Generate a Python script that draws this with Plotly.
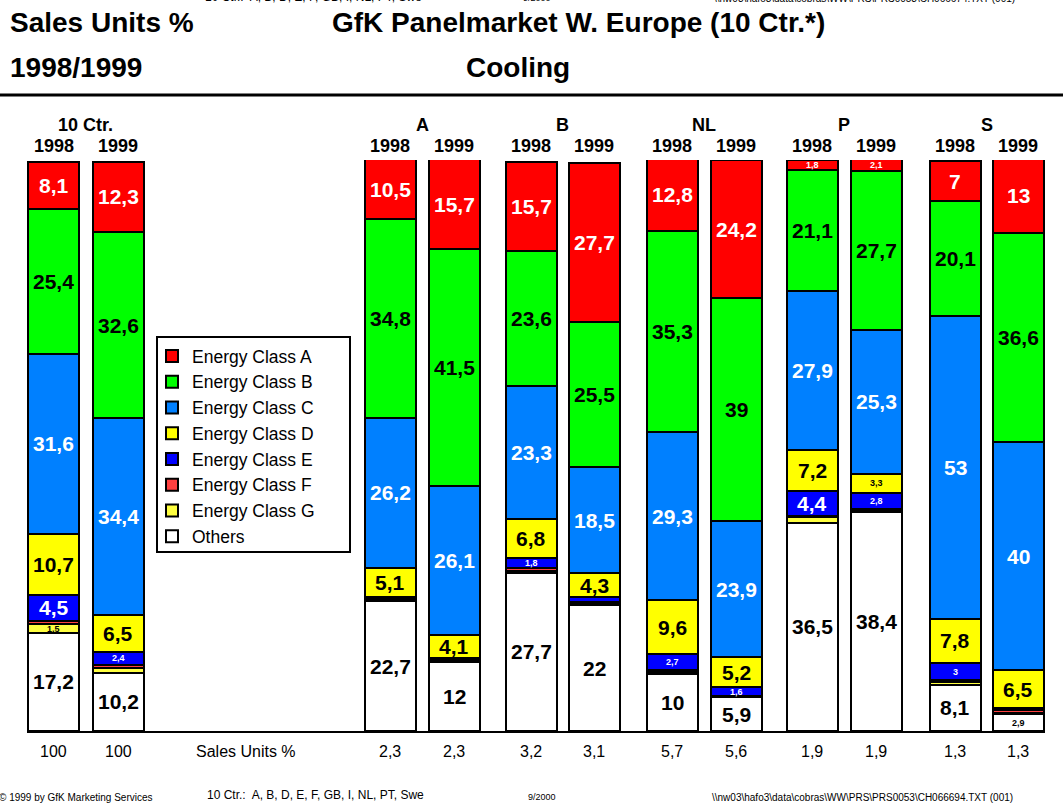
import plotly.graph_objects as go

# ---------------- data ----------------
groups = ["10 Ctr.", "A", "B", "NL", "P", "S"]
years = ["1998", "1999"] * 6
shares = ["100", "100", "2,3", "2,3", "3,2", "3,1", "5,7", "5,6", "1,9", "1,9", "1,3", "1,3"]

class_a = [8.1, 12.3, 10.5, 15.7, 15.7, 27.7, 12.8, 24.2, 1.8, 2.1, 7.0, 13.0]
class_b = [25.4, 32.6, 34.8, 41.5, 23.6, 25.5, 35.3, 39.0, 21.1, 27.7, 20.1, 36.6]
class_c = [31.6, 34.4, 26.2, 26.1, 23.3, 18.5, 29.3, 23.9, 27.9, 25.3, 53.0, 40.0]
class_d = [10.7, 6.5, 5.1, 4.1, 6.8, 4.3, 9.6, 5.2, 7.2, 3.3, 7.8, 6.5]
class_e = [4.5, 2.4, 0.3, 0.3, 1.8, 0.8, 2.7, 1.6, 4.4, 2.8, 3.0, 0.5]
class_f = [0.6, 0.4, 0.2, 0.2, 0.4, 0.3, 0.4, 0.1, 0.2, 0.3, 0.4, 0.4]
class_g = [1.5, 0.9, 0.3, 0.2, 0.4, 0.3, 0.3, 0.1, 0.9, 0.2, 0.4, 0.3]
others = [17.2, 10.2, 22.7, 12.0, 27.7, 22.0, 10.0, 5.9, 36.5, 38.4, 8.1, 2.9]

# ---------------- layout helpers ----------------
FONT = "Liberation Sans, Arial, sans-serif"
col_pos = [53.5, 118, 390, 454, 531, 594, 672, 736, 812, 876, 955, 1018]
BAR_W = 51
TOP_PX, BASE_PX = 160, 731


def py(p):
    return (BASE_PX - p) / (BASE_PX - TOP_PX)


def px_x(p):
    return (p - 27) / 1018


def fmt(v):
    return f"{v:g}".replace(".", ",")


# bottom -> top stacking order, with legend rank (A first in legend)
series = [
    ("Others", others, "#FFFFFF", "black", 8),
    ("Energy Class G", class_g, "#FFFF40", "black", 7),
    ("Energy Class F", class_f, "#FF4040", "white", 6),
    ("Energy Class E", class_e, "#0000FF", "white", 5),
    ("Energy Class D", class_d, "#FFFF00", "black", 4),
    ("Energy Class C", class_c, "#0080FF", "white", 3),
    ("Energy Class B", class_b, "#00FF00", "black", 2),
    ("Energy Class A", class_a, "#FF0000", "white", 1),
]

fig = go.Figure()
annotations = []
base = [0.0] * len(col_pos)
for name, vals, color, tcol, rank in series:
    fig.add_trace(go.Bar(
        x=col_pos, y=vals, width=BAR_W, name=name,
        legendrank=rank,
        marker=dict(color=color, line=dict(color="black", width=2)),
        hoverinfo="skip",
    ))
    for i, v in enumerate(vals):
        if v >= 1.5:
            small = v < 4
            annotations.append(dict(
                x=col_pos[i], y=base[i] + v / 2, xref="x", yref="y",
                text=f"<b>{fmt(v)}</b>", showarrow=False,
                font=dict(family=FONT, size=9 if small else 21, color=tcol),
                xanchor="center", yanchor="middle",
            ))
        base[i] += v

# headers: years
for i, yr in enumerate(years):
    annotations.append(dict(x=col_pos[i], y=py(146), xref="x", yref="paper",
                            text=f"<b>{yr}</b>", showarrow=False,
                            font=dict(family=FONT, size=18, color="black"),
                            xanchor="center", yanchor="middle"))
# headers: groups
for g_i, g in enumerate(groups):
    cx = (col_pos[2 * g_i] + col_pos[2 * g_i + 1]) / 2
    annotations.append(dict(x=cx, y=py(125), xref="x", yref="paper",
                            text=f"<b>{g}</b>", showarrow=False,
                            font=dict(family=FONT, size=18, color="black"),
                            xanchor="center", yanchor="middle"))
# bottom: sales units shares
for i, s in enumerate(shares):
    annotations.append(dict(x=col_pos[i], y=py(752), xref="x", yref="paper",
                            text=s, showarrow=False,
                            font=dict(family=FONT, size=16, color="black"),
                            xanchor="center", yanchor="middle"))
annotations.append(dict(x=246, y=py(752), xref="x", yref="paper",
                        text="Sales Units %", showarrow=False,
                        font=dict(family=FONT, size=16, color="black"),
                        xanchor="center", yanchor="middle"))

# titles
title_items = [
    ("<b>Sales Units %</b>", 8, 22, "left", 28),
    ("<b>GfK Panelmarket W. Europe (10 Ctr.*)</b>", 578, 22, "center", 28),
    ("<b>1998/1999</b>", 8, 67, "left", 28),
    ("<b>Cooling</b>", 518, 67, "center", 28),
]
for t, x, y, anc, sz in title_items:
    annotations.append(dict(x=px_x(x), y=py(y), xref="paper", yref="paper",
                            text=t, showarrow=False,
                            font=dict(family=FONT, size=sz, color="black"),
                            xanchor=anc, yanchor="middle"))

# footer and (partly clipped) header line
foot_items = [
    ("© 1999 by GfK Marketing Services", -3, 797, 10),
    ("10 Ctr.:  A, B, D, E, F, GB, I, NL, PT, Swe", 205, 795, 12),
    ("9/2000", 526, 797, 9),
    ("\\\\nw03\\hafo3\\data\\cobras\\WW\\PRS\\PRS0053\\CH066694.TXT (001)", 710, 797, 10),
    ("10 Ctr.:  A, B, D, E, F, GB, I, NL, PT, Swe", 203, -3, 12),
    ("9/2000", 521, -2, 9),
    ("\\\\nw03\\hafo3\\data\\cobras\\WW\\PRS\\PRS0053\\CH066674.TXT (001)", 712, -2, 10),
]
for t, x, y, sz in foot_items:
    annotations.append(dict(x=px_x(x), y=py(y), xref="paper", yref="paper",
                            text=t, showarrow=False,
                            font=dict(family=FONT, size=sz, color="black"),
                            xanchor="left", yanchor="middle"))

shapes = [
    dict(type="line", xref="paper", yref="paper", x0=px_x(0), x1=px_x(1063),
         y0=py(95), y1=py(95), line=dict(color="black", width=3)),
    dict(type="rect", xref="paper", yref="paper", x0=px_x(157), x1=px_x(350),
         y0=py(337), y1=py(552), line=dict(color="black", width=2),
         fillcolor="white", layer="below"),
]

fig.update_layout(
    width=1063, height=805,
    margin=dict(l=27, r=18, t=TOP_PX, b=805 - BASE_PX),
    paper_bgcolor="white", plot_bgcolor="white",
    barmode="stack",
    xaxis=dict(range=[27, 1045], showgrid=False, zeroline=False,
               showticklabels=False, ticks="", showline=True,
               linecolor="black", linewidth=2, fixedrange=True),
    yaxis=dict(range=[0, 100], visible=False, fixedrange=True),
    showlegend=True,
    legend=dict(x=px_x(152), y=py(338), xanchor="left", yanchor="top",
                traceorder="normal",
                bgcolor="rgba(0,0,0,0)", borderwidth=0,
                font=dict(family=FONT, size=17.5, color="black")),
    annotations=annotations,
    shapes=shapes,
    font=dict(family=FONT),
)

fig.write_html(
    "out.html",
    config={"displayModeBar": False, "staticPlot": True},
    post_script="document.body.style.margin='0px';document.body.style.overflow='hidden';",
)
